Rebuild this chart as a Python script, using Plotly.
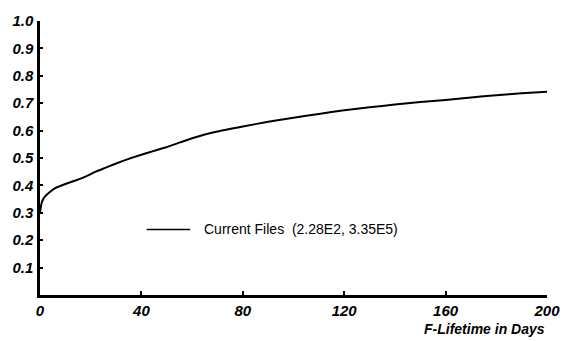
import plotly.graph_objects as go

days = [0, 0.5, 1, 2, 4, 6, 10, 14, 18, 22, 26, 30, 35, 40, 45, 50, 55, 60, 65, 70,
        80, 90, 100, 110, 120, 130, 140, 150, 160, 170, 180, 190, 200]
fraction = [0.30, 0.33, 0.345, 0.36, 0.377, 0.39, 0.405, 0.418, 0.432, 0.45, 0.465,
            0.48, 0.497, 0.512, 0.526, 0.54, 0.556, 0.572, 0.586, 0.597,
            0.615, 0.632, 0.647, 0.661, 0.674, 0.685, 0.695, 0.704, 0.712, 0.721,
            0.729, 0.736, 0.742]
x_ticks = [0, 40, 80, 120, 160, 200]
y_ticks = [0.1, 0.2, 0.3, 0.4, 0.5, 0.6, 0.7, 0.8, 0.9, 1.0]
series_name = "Current Files  (2.28E2, 3.35E5)"

font_family = "Liberation Sans, Arial, sans-serif"
tickfont = dict(family=font_family, size=15, color="black", style="italic", weight="bold")

fig = go.Figure()
fig.add_trace(go.Scatter(x=days, y=fraction, mode="lines", name=series_name,
                         line=dict(color="black", width=2, shape="spline", smoothing=0.6),
                         showlegend=False))

fig.update_layout(
    width=574, height=341,
    margin=dict(l=34, r=27, t=19, b=46),
    plot_bgcolor="white", paper_bgcolor="white",
    xaxis=dict(range=[0, 200], tickvals=x_ticks, ticktext=[str(v) for v in x_ticks],
               showgrid=False, zeroline=False, showline=True, linecolor="black",
               linewidth=2.5, ticks="inside", ticklen=4, tickwidth=2, tickcolor="black",
               tickfont=tickfont, ticklabelstandoff=0),
    yaxis=dict(range=[0, 1.0], tickvals=y_ticks, ticktext=[f"{v:.1f}" for v in y_ticks],
               showgrid=False, zeroline=False, showline=True, linecolor="black",
               linewidth=2.5, ticks="inside", ticklen=3, tickwidth=2, tickcolor="black",
               tickfont=tickfont, ticklabelstandoff=1),
    showlegend=False,
)

# legend sample (line + label)
fig.add_shape(type="line", xref="paper", yref="paper",
              x0=(142 - 34) / 513, x1=(186 - 34) / 513,
              y0=(295 - 229) / 276, y1=(295 - 229) / 276,
              line=dict(color="black", width=1.5))
fig.add_annotation(text=series_name, xref="paper", yref="paper",
                   x=(198 - 34) / 513, y=(295 - 229) / 276, xanchor="left", yanchor="middle",
                   showarrow=False, font=dict(family=font_family, size=14, color="black"))

# axis title
fig.add_annotation(text="F-Lifetime in Days", xref="paper", yref="paper",
                   x=1.0, y=-(329 - 295) / 276, xanchor="right", yanchor="middle",
                   showarrow=False,
                   font=dict(family=font_family, size=14, color="black",
                             style="italic", weight="bold"))

fig.write_html("out.html")
